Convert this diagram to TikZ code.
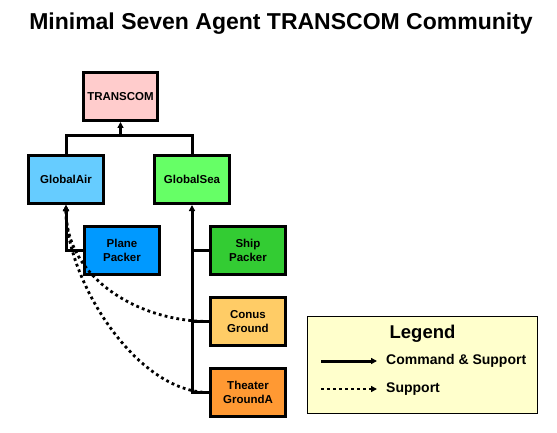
\documentclass[tikz,border=0pt]{standalone}
\usepackage{fontspec}
\setmainfont{Liberation Sans}
\usetikzlibrary{positioning, arrows.meta, calc}

\definecolor{transcompink}{HTML}{FFCCCC}
\definecolor{airblue}{HTML}{66CCFF}
\definecolor{seagreen}{HTML}{66FF66}
\definecolor{planeblue}{HTML}{0099FF}
\definecolor{shipgreen}{HTML}{33CC33}
\definecolor{conusorange}{HTML}{FFCC66}
\definecolor{theaterorange}{HTML}{FF9933}
\definecolor{legendyellow}{HTML}{FFFFCC}

\begin{document}
\begin{tikzpicture}[x=1pt, y=1pt, node distance=20pt and 48pt]
	
	\tikzstyle{agent}=[draw, line width=3pt, minimum width=75pt, minimum height=48pt, align=center, font=\fontsize{11.5}{14}\selectfont\bfseries]
	\tikzstyle{legendbox}=[draw, line width=1pt, fill=legendyellow, minimum width=230pt, minimum height=97pt]
	\tikzstyle{legendtext}=[inner sep=0pt, anchor=west, font=\fontsize{14}{16}\selectfont\bfseries]
    
    \tikzstyle{command}=[-{Triangle[length=6pt, width=6pt]}, line width=3pt]
    \tikzstyle{link}=[line width=3pt]
    \tikzstyle{support}=[-{Triangle[length=6pt, width=6pt]}, line width=2.8pt, dash pattern=on 2.8pt off 3.2pt]

	\useasboundingbox (0,0) rectangle (557,-433);

	\node[font=\fontsize{23}{27}\selectfont\bfseries] (title) at (281,-24) {Minimal Seven Agent TRANSCOM Community};

	\node[agent, fill=transcompink, minimum width=70pt] (transcom) at (120.5,-96.5) {TRANSCOM};
    
	\node[agent, fill=airblue] (air) at (66,-179.5) {GlobalAir};
	\node[agent, fill=seagreen, right=of air] (sea) {GlobalSea};
    
	\node[agent, fill=planeblue, below=of air, xshift=56pt] (plane) {Plane\\Packer};
	\node[agent, fill=shipgreen, below=of sea, xshift=56pt] (ship) {Ship\\Packer};
	\node[agent, fill=conusorange, below=of ship] (conus) {Conus\\Ground};
	\node[agent, fill=theaterorange, below=of conus] (theater) {Theater\\GroundA};
    
    \coordinate[below=14pt of transcom] (junction);
    \draw[command] (junction) -- (transcom);
    \draw[link] (air.north) |- (junction) -| (sea.north);
    
    \draw[command] (plane.west) -| (air.south);
    \draw[command] (theater.west) -| (sea.south);
    \draw[link] (ship.west) -- (ship.west -| sea.south);
    \draw[link] (conus.west) -- (conus.west -| sea.south);
    
    \draw[support] (conus.west) to[out=180, in=-90] (air.south);
    \draw[support] (theater.west) to[out=180, in=-90, looseness=0.8] (air.south);
    
    
    % legend
    \node[legendbox] (legend) at (422.5,-365) {};
    \node[font=\fontsize{18.5}{22}\selectfont\bfseries] (legendtitle) at ($(legend.north)+(0,-18)$) {Legend};
    
    \coordinate (cmdstart) at (321,-361);
    \coordinate[right=56pt of cmdstart] (cmdend);
    \draw[command] (cmdstart) -- (cmdend);
    \node[legendtext, right=9pt of cmdend] (cmdtext) {Command \& Support};
    
    \coordinate (supstart) at (321,-389);
    \coordinate[right=56pt of supstart] (supend);
    \draw[support] (supstart) -- (supend);
    \node[legendtext, right=9pt of supend] (suptext) {Support};
    
\end{tikzpicture}
\end{document}
